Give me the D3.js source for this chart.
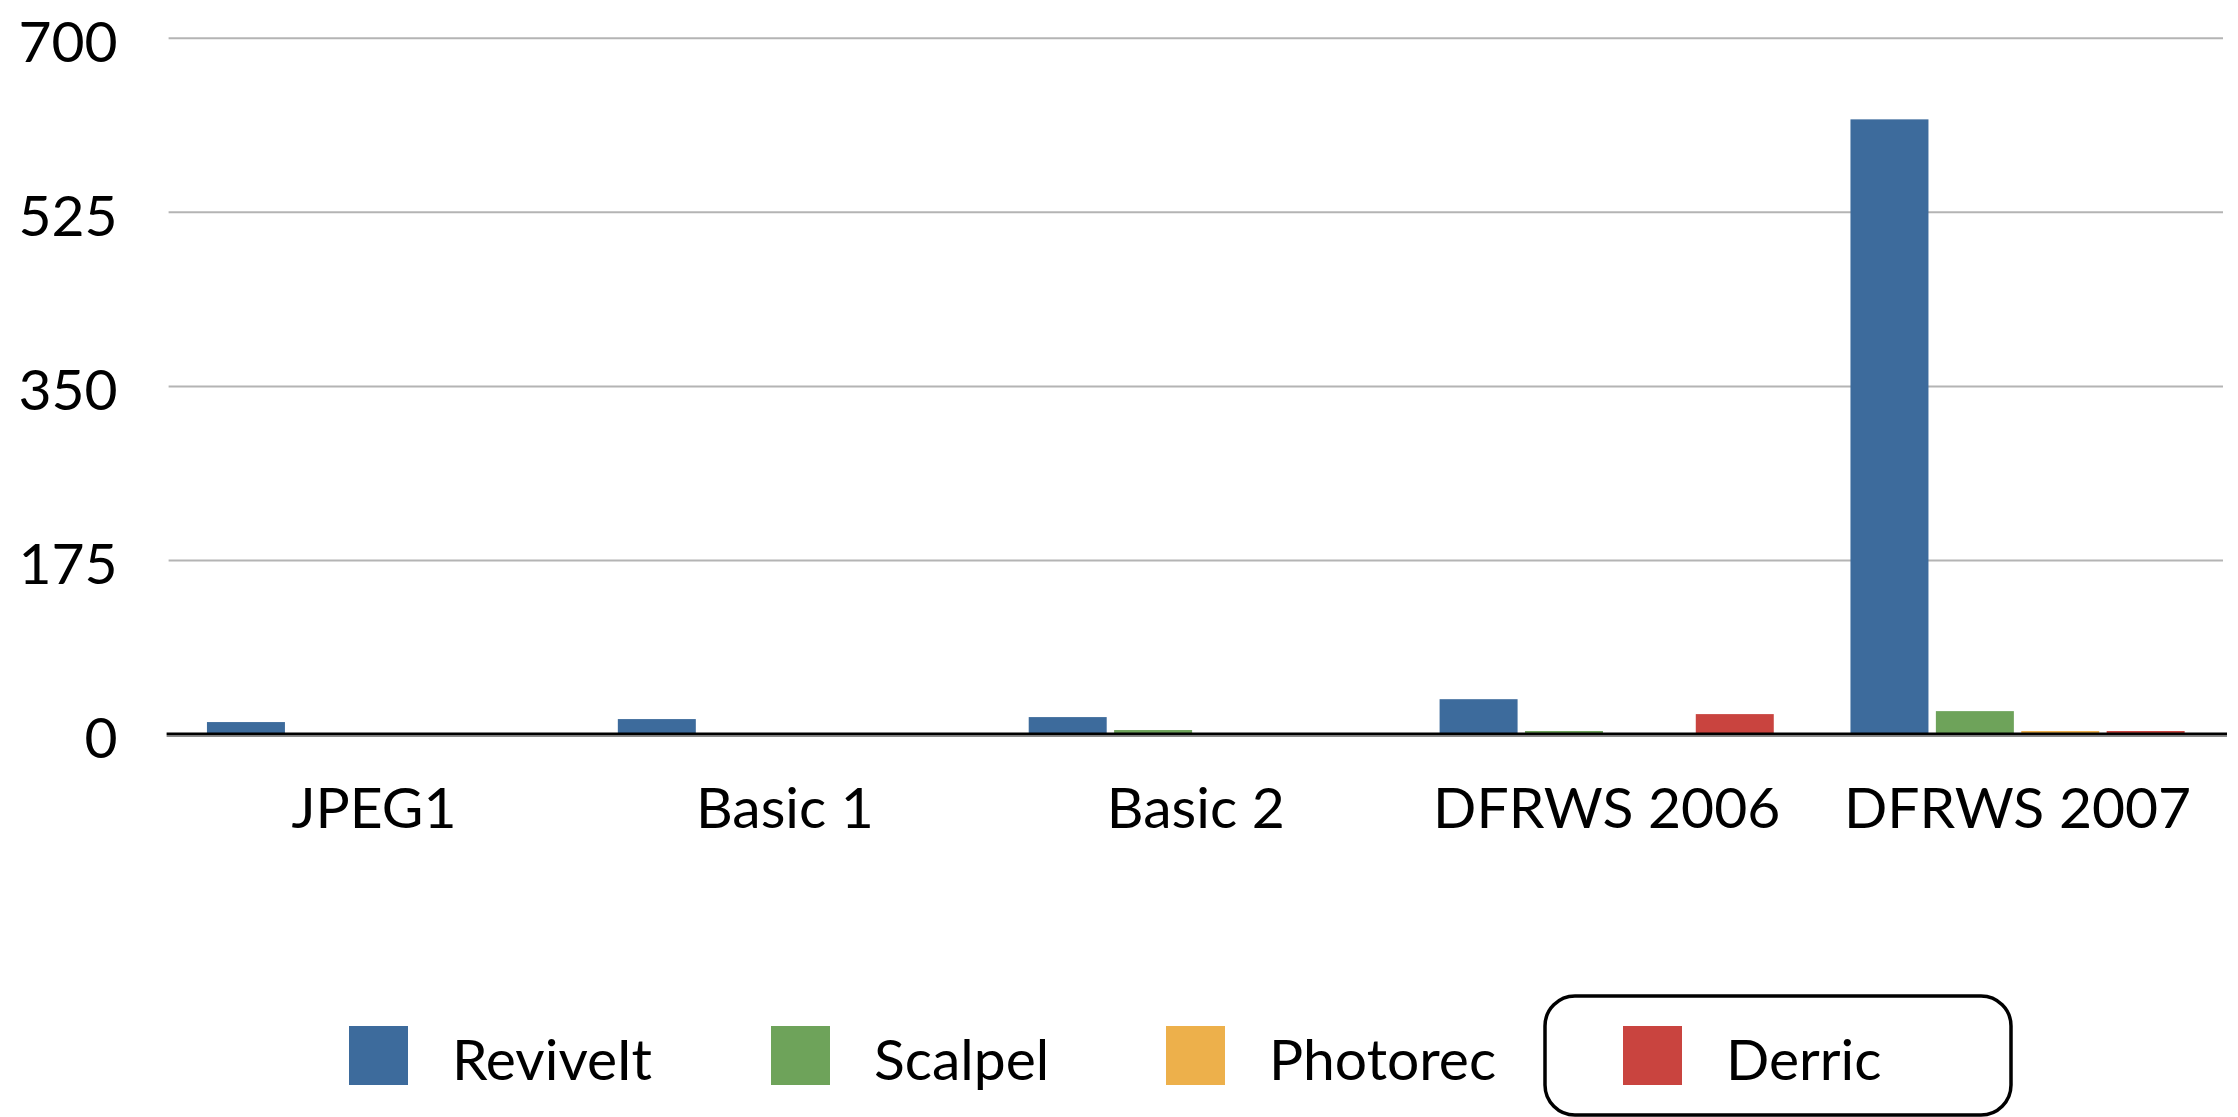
<!DOCTYPE html>
<html>
<head>
<meta charset="utf-8">
<script src="https://cdn.jsdelivr.net/npm/d3@7/dist/d3.min.js"></script>
<style>
  html, body { margin: 0; padding: 0; background: #ffffff; }
  svg { display: block; }
  text { font-family: Lato, "Open Sans", sans-serif; fill: #000; }
</style>
</head>
<body>
<svg id="chart" width="2238" height="1117"></svg>
<script>
// Recovered file counts per test image, by carving tool
const categories = ["JPEG1", "Basic 1", "Basic 2", "DFRWS 2006", "DFRWS 2007"];
const seriesNames = ["ReviveIt", "Scalpel", "Photorec", "Derric"];
const reviveIt = [12, 15, 17, 35, 618];
const scalpel = [0, 0, 4, 3, 23];
const photorec = [0, 0, 0, 0, 3];
const derric = [0, 0, 0, 20, 3];
const yTicks = [0, 175, 350, 525, 700];
const colors = ["#3d6b9c", "#6ea35a", "#edb04b", "#c9443f"];

const seriesValues = [reviveIt, scalpel, photorec, derric];

const svg = d3.select("#chart");
const plot = { left: 168.6, right: 2223, top: 37.8, bottom: 734 };

const x0 = d3.scaleBand().domain(categories).range([plot.left, plot.right]).padding(0);
const groupPad = 38.35;
const x1 = d3.scaleBand().domain(seriesNames)
  .range([groupPad, x0.bandwidth() - groupPad])
  .paddingInner(0.0867).paddingOuter(0);
const y = d3.scaleLinear().domain([0, 700]).range([plot.bottom, plot.top]);
const color = d3.scaleOrdinal().domain(seriesNames).range(colors);

// horizontal gridlines and value labels
const yAxis = d3.axisLeft(y).tickValues(yTicks).tickSize(-(plot.right - plot.left)).tickPadding(51);
const gy = svg.append("g").attr("transform", `translate(${plot.left},0)`).call(yAxis);
gy.select(".domain").remove();
gy.selectAll(".tick line")
  .attr("stroke", "#b4b4b4").attr("stroke-width", 2)
  .attr("display", d => d === 0 ? "none" : null);
gy.selectAll(".tick text")
  .attr("font-size", 57).attr("font-family", "Lato, sans-serif")
  .attr("fill", "#000").attr("dy", "0.42em");

// bars
const rows = categories.map((c, i) => ({ cat: c, vals: seriesNames.map((s, k) => ({ s, v: seriesValues[k][i] })) }));
const groups = svg.append("g").selectAll("g").data(rows).join("g")
  .attr("transform", d => `translate(${x0(d.cat)},0)`);
groups.selectAll("rect").data(d => d.vals.filter(e => e.v > 0)).join("rect")
  .attr("x", d => x1(d.s))
  .attr("width", x1.bandwidth())
  .attr("y", d => y(d.v))
  .attr("height", d => y(0) - y(d.v))
  .attr("fill", d => color(d.s));

// baseline axis with category labels
const xAxis = d3.axisBottom(x0).tickSize(0).tickPadding(54);
const gx = svg.append("g").attr("transform", `translate(0,${plot.bottom})`).call(xAxis);
gx.select(".domain").attr("stroke", "#000").attr("stroke-width", 3)
  .attr("d", `M${plot.left - 2},0H${plot.right + 4}`);
gx.append("line").attr("x1", plot.left - 2).attr("x2", plot.right + 4)
  .attr("y1", 2.5).attr("y2", 2.5).attr("stroke", "#8a8a8a").attr("stroke-width", 1.2);
gx.selectAll(".tick text")
  .attr("font-size", 57).attr("font-family", "Lato, sans-serif").attr("fill", "#000");

// legend
const legendX = [349, 771, 1166, 1623];
const lg = svg.append("g");
lg.append("rect")
  .attr("x", 1545).attr("y", 996).attr("width", 466).attr("height", 119)
  .attr("rx", 30).attr("ry", 30)
  .attr("fill", "none").attr("stroke", "#000").attr("stroke-width", 3.5);
const items = lg.selectAll("g.item").data(seriesNames).join("g").attr("class", "item")
  .attr("transform", (d, i) => `translate(${legendX[i]},1026)`);
items.append("rect").attr("width", 59).attr("height", 59).attr("fill", d => color(d));
items.append("text").attr("x", 103).attr("y", 54)
  .attr("font-size", 57).text(d => d);
</script>
</body>
</html>
